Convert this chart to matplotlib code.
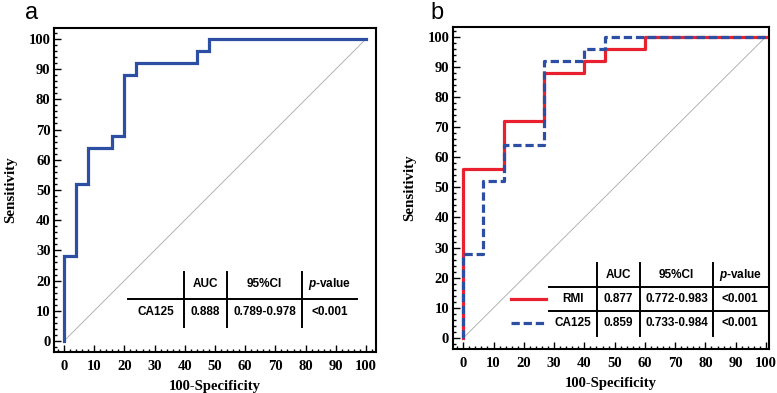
import matplotlib
matplotlib.use("Agg")
import matplotlib.pyplot as plt
from matplotlib.ticker import MultipleLocator

# ROC step points (100-Specificity, Sensitivity)
a_ca125_x = [0, 0, 4, 4, 8, 8, 16, 16, 20, 20, 24, 24, 44, 44, 48, 48, 100]
a_ca125_y = [0, 28, 28, 52, 52, 64, 64, 68, 68, 88, 88, 92, 92, 96, 96, 100, 100]

b_rmi_x = [0, 0, 13.33, 13.33, 26.67, 26.67, 40, 40, 46.67, 46.67, 60, 60, 100]
b_rmi_y = [0, 56, 56, 72, 72, 88, 88, 92, 92, 96, 96, 100, 100]
b_ca125_x = [0, 0, 6.67, 6.67, 13.33, 13.33, 26.67, 26.67, 40, 40, 46.67, 46.67, 100]
b_ca125_y = [0, 28, 28, 52, 52, 64, 64, 92, 92, 96, 96, 100, 100]

table_head = ["AUC", "95%CI", "$\\it{p}$-value"]
a_rows = [["CA125", "0.888", "0.789-0.978", "<0.001"]]
b_rows = [["RMI", "0.877", "0.772-0.983", "<0.001"],
          ["CA125", "0.859", "0.733-0.984", "<0.001"]]

plt.rcParams["mathtext.fontset"] = "custom"
plt.rcParams["mathtext.it"] = "Liberation Sans:italic:bold"
plt.rcParams["mathtext.rm"] = "Liberation Sans:bold"

blue = "#2d4fa3"
red = "#e8202f"
lw = 2.3
serif = "Liberation Serif"
sans = "Liberation Sans"

fig = plt.figure(figsize=(7.77, 3.93), dpi=100)
ax1 = fig.add_axes([0.0695, 0.1043, 0.4144, 0.8244])
ax2 = fig.add_axes([0.5826, 0.112, 0.4071, 0.8193])


def style(ax, xlim, ylim):
    ax.set_xlim(*xlim)
    ax.set_ylim(*ylim)
    ax.plot([0, 100], [0, 100], color="#a8a8a8", lw=0.6, zorder=1)
    ax.xaxis.set_major_locator(MultipleLocator(10))
    ax.xaxis.set_minor_locator(MultipleLocator(2))
    ax.yaxis.set_major_locator(MultipleLocator(10))
    ax.yaxis.set_minor_locator(MultipleLocator(2))
    ax.tick_params(which="both", direction="in", width=1.0, color="black")
    ax.tick_params(which="major", length=5)
    ax.tick_params(which="minor", length=2.5)
    ax.tick_params(axis="x", which="major", pad=6)
    ax.tick_params(axis="y", which="major", pad=2.5)
    for s in ax.spines.values():
        s.set_linewidth(1.5)
    for lab in ax.get_xticklabels() + ax.get_yticklabels():
        lab.set_fontfamily(serif)
        lab.set_fontweight("bold")
        lab.set_fontsize(10.5)
    ax.set_xlabel("100-Specificity", fontfamily=serif, fontweight="bold",
                  fontsize=10.5, labelpad=5)
    ax.set_ylabel("Sensitivity", fontfamily=serif, fontweight="bold",
                  fontsize=10.8, labelpad=8)


def cell(ax, x, y, t):
    ax.text(x, y, t, ha="center", va="center", fontfamily=sans,
            fontweight="bold", fontsize=8.5)


# panel a
style(ax1, (-3.31, 103.3), (-3.64, 103.6))
ax1.plot(a_ca125_x, a_ca125_y, color=blue, lw=lw, zorder=3,
         solid_joinstyle="miter")

tlw = 1.4
ax1.plot([21.2, 97], [13.9, 13.9], color="black", lw=tlw)
for xv in [39.7, 54, 78.8]:
    ax1.plot([xv, xv], [4.7, 22.9], color="black", lw=tlw)
for xc, t in zip([46.9, 66.4, 87.9], table_head):
    cell(ax1, xc, 18.9, t)
for xc, t in zip([30.4, 46.9, 66.4, 87.9], a_rows[0]):
    cell(ax1, xc, 9.6, t)

# panel b
style(ax2, (-3.5, 101.0), (-3.65, 103.2))
ax2.plot(b_rmi_x, b_rmi_y, color=red, lw=lw, zorder=3)
ax2.plot(b_ca125_x, b_ca125_y, color=blue, lw=lw, zorder=4,
         linestyle=(0, (2.6, 1.2)))

ax2.plot([28.2, 100.3], [16.8, 16.8], color="black", lw=tlw)
ax2.plot([28.2, 100.3], [9.0, 9.0], color="black", lw=tlw)
for xv in [44.1, 58.4, 82.6]:
    ax2.plot([xv, xv], [0.7, 25], color="black", lw=tlw)
for xc, t in zip([51.25, 70.5, 91.5], table_head):
    cell(ax2, xc, 20.9, t)
for yc, row in zip([12.9, 4.9], b_rows):
    for xc, t in zip([36.3, 51.25, 70.5, 91.5], row):
        cell(ax2, xc, yc, t)
ax2.plot([15.7, 27.3], [12.9, 12.9], color=red, lw=lw)
ax2.plot([15.7, 27.3], [4.9, 4.9], color=blue, lw=lw, linestyle=(0, (2.6, 1.2)))

fig.text(32 / 777, 1 - 13 / 393, "a", fontfamily=sans, fontsize=17,
         ha="center", va="center")
fig.text(437 / 777, 1 - 13 / 393, "b", fontfamily=sans, fontsize=17,
         ha="center", va="center")

fig.savefig("out.png", dpi=100)
